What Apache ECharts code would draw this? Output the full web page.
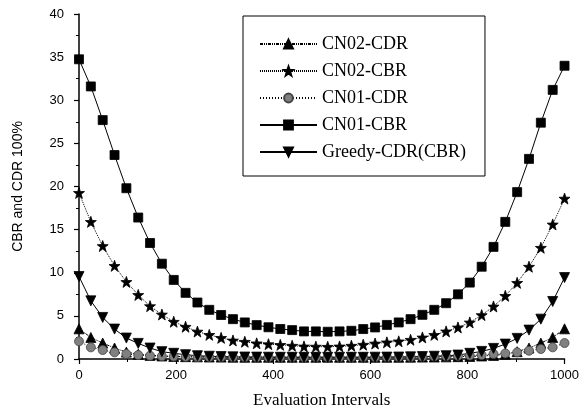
<!DOCTYPE html>
<html>
<head>
<meta charset="utf-8">
<script src="https://cdn.jsdelivr.net/npm/echarts@6/dist/echarts.min.js"></script>
<style>
html, body { margin: 0; padding: 0; background: #fff; }
#chart { width: 582px; height: 414px; }
</style>
</head>
<body>
<div id="chart"></div>
<script>
const chartDom = document.getElementById('chart');
const myChart = echarts.init(chartDom);

// x positions of the markers (42 evenly spaced points over 0..1000)
const xValues = [0, 24.4, 48.8, 73.2, 97.6, 122, 146.3, 170.7, 195.1, 219.5, 243.9,
    268.3, 292.7, 317.1, 341.5, 365.9, 390.2, 414.6, 439, 463.4, 487.8, 512.2,
    536.6, 561, 585.4, 609.8, 634.1, 658.5, 682.9, 707.3, 731.7, 756.1, 780.5,
    804.9, 829.3, 853.7, 878, 902.4, 926.8, 951.2, 975.6, 1000];

const cn02Cdr = [3.5, 2.5, 1.85, 1.27, 0.8, 0.55, 0.42,
    0.35, 0.3, 0.27, 0.25, 0.23, 0.22, 0.21,
    0.2, 0.2, 0.2, 0.2, 0.2, 0.2, 0.2, 0.2, 0.2, 0.2, 0.2, 0.2, 0.2, 0.2,
    0.21, 0.22, 0.23, 0.25, 0.27, 0.3, 0.35,
    0.42, 0.55, 0.85, 1.27, 1.85, 2.5, 3.5];

const cn02Cbr = [19.26, 15.9, 13.1, 10.8, 8.94, 7.43, 6.13, 5.16, 4.32, 3.74, 3.18,
    2.8, 2.45, 2.15, 2.0, 1.82, 1.72, 1.64, 1.54, 1.46, 1.44, 1.42, 1.46, 1.54,
    1.66, 1.8, 1.93, 2.05, 2.23, 2.5, 2.8, 3.2, 3.66, 4.24, 5.09, 6.09, 7.32,
    8.83, 10.7, 12.9, 15.6, 18.6];

const cn01Cdr = [2.05, 1.35, 1.04, 0.77, 0.58, 0.46, 0.38,
    0.32, 0.28, 0.25, 0.23, 0.22, 0.21,
    0.2, 0.2, 0.2, 0.2, 0.2, 0.2, 0.2, 0.2, 0.2, 0.2, 0.2, 0.2, 0.2,
    0.21, 0.22, 0.23, 0.25, 0.28, 0.32, 0.36, 0.4,
    0.46, 0.58, 0.65, 0.77, 0.96, 1.16, 1.35, 1.85];

const cn01Cbr = [34.75, 31.6, 27.7, 23.65, 19.8, 16.4, 13.45, 11.05, 9.17, 7.67, 6.55,
    5.7, 5.1, 4.62, 4.24, 3.93, 3.68, 3.48, 3.35, 3.2, 3.2, 3.16, 3.2, 3.27,
    3.47, 3.66, 3.95, 4.24, 4.62, 5.12, 5.7, 6.47, 7.5, 8.86, 10.7, 13.0, 15.9,
    19.35, 23.2, 27.4, 31.2, 34.0];

const greedy = [9.56, 6.74, 4.82, 3.47, 2.43, 1.81, 1.27, 0.85, 0.66, 0.5, 0.38,
    0.32, 0.28, 0.25, 0.23, 0.22, 0.21, 0.2, 0.2, 0.2, 0.2, 0.2, 0.2, 0.2, 0.2,
    0.21, 0.22, 0.23, 0.25, 0.28, 0.32,
    0.38, 0.46, 0.66, 0.88, 1.23, 1.73, 2.39, 3.35, 4.62, 6.67, 9.44];

const seriesNames = ['CN02-CDR', 'CN02-CBR', 'CN01-CDR', 'CN01-CBR', 'Greedy-CDR(CBR)'];

const starPath = 'path://M0,-10 L2.35,-3.24 L9.51,-3.09 L3.8,1.24 L5.88,8.09 L0,4 L-5.88,8.09 L-3.8,1.24 L-9.51,-3.09 L-2.35,-3.24 Z';

function pairs(ys) {
    return ys.map(function (y, i) { return [xValues[i], y]; });
}

function makeSeries(name, ys, symbol, size, lineType, fill, rotate) {
    return {
        name: name,
        type: 'line',
        data: pairs(ys),
        symbol: symbol,
        symbolSize: size,
        symbolRotate: rotate || 0,
        showAllSymbol: true,
        lineStyle: { color: '#000', width: 1, type: lineType },
        itemStyle: { color: fill, borderColor: fill === '#000' ? '#000' : '#444', borderWidth: 0.8 },
        emphasis: { disabled: true }
    };
}

const option = {
    animation: false,
    backgroundColor: '#fff',
    grid: { left: 79, right: 17, top: 14, bottom: 54 },
    legend: {
        orient: 'vertical',
        left: 243,
        top: 16,
        padding: [19, 19, 15, 16],
        itemGap: 9,
        itemWidth: 57,
        itemHeight: 11,
        borderColor: '#000',
        borderWidth: 1,
        data: seriesNames,
        textStyle: { fontFamily: 'Liberation Serif', fontSize: 18, color: '#000' }
    },
    xAxis: {
        type: 'value',
        min: 0,
        max: 1000,
        interval: 200,
        name: 'Evaluation Intervals',
        nameLocation: 'middle',
        nameGap: 33,
        nameTextStyle: { fontFamily: 'Liberation Serif', fontSize: 17, color: '#000' },
        axisLine: { lineStyle: { color: '#000', width: 1.5 } },
        axisTick: { length: 5, lineStyle: { color: '#000', width: 1.2 } },
        minorTick: { show: true, splitNumber: 2, length: 3, lineStyle: { color: '#000' } },
        axisLabel: {
            fontFamily: 'Liberation Sans', fontSize: 13, color: '#000', margin: 10,
            formatter: function (v) { return String(v); }
        },
        splitLine: { show: false }
    },
    yAxis: {
        type: 'value',
        min: 0,
        max: 40,
        interval: 5,
        name: 'CBR and CDR 100%',
        nameLocation: 'middle',
        nameGap: 54,
        nameTextStyle: { fontFamily: 'Liberation Sans', fontSize: 14, color: '#000' },
        axisLine: { show: true, lineStyle: { color: '#000', width: 1.5 } },
        axisTick: { show: true, length: 5, lineStyle: { color: '#000', width: 1.2 } },
        minorTick: { show: true, splitNumber: 2, length: 3, lineStyle: { color: '#000' } },
        axisLabel: { fontFamily: 'Liberation Sans', fontSize: 13, color: '#000', margin: 15 },
        splitLine: { show: false }
    },
    series: [
        makeSeries(seriesNames[0], cn02Cdr, 'triangle', 10, [3, 1, 1, 1, 1, 1], '#000'),
        makeSeries(seriesNames[1], cn02Cbr, starPath, 11, [1, 1], '#000'),
        makeSeries(seriesNames[2], cn01Cdr, 'circle', 9, [1, 2], '#808080'),
        makeSeries(seriesNames[3], cn01Cbr, 'rect', 9, 'solid', '#000'),
        makeSeries(seriesNames[4], greedy, 'triangle', 10, 'solid', '#000', 180)
    ]
};

myChart.setOption(option);
</script>
</body>
</html>
